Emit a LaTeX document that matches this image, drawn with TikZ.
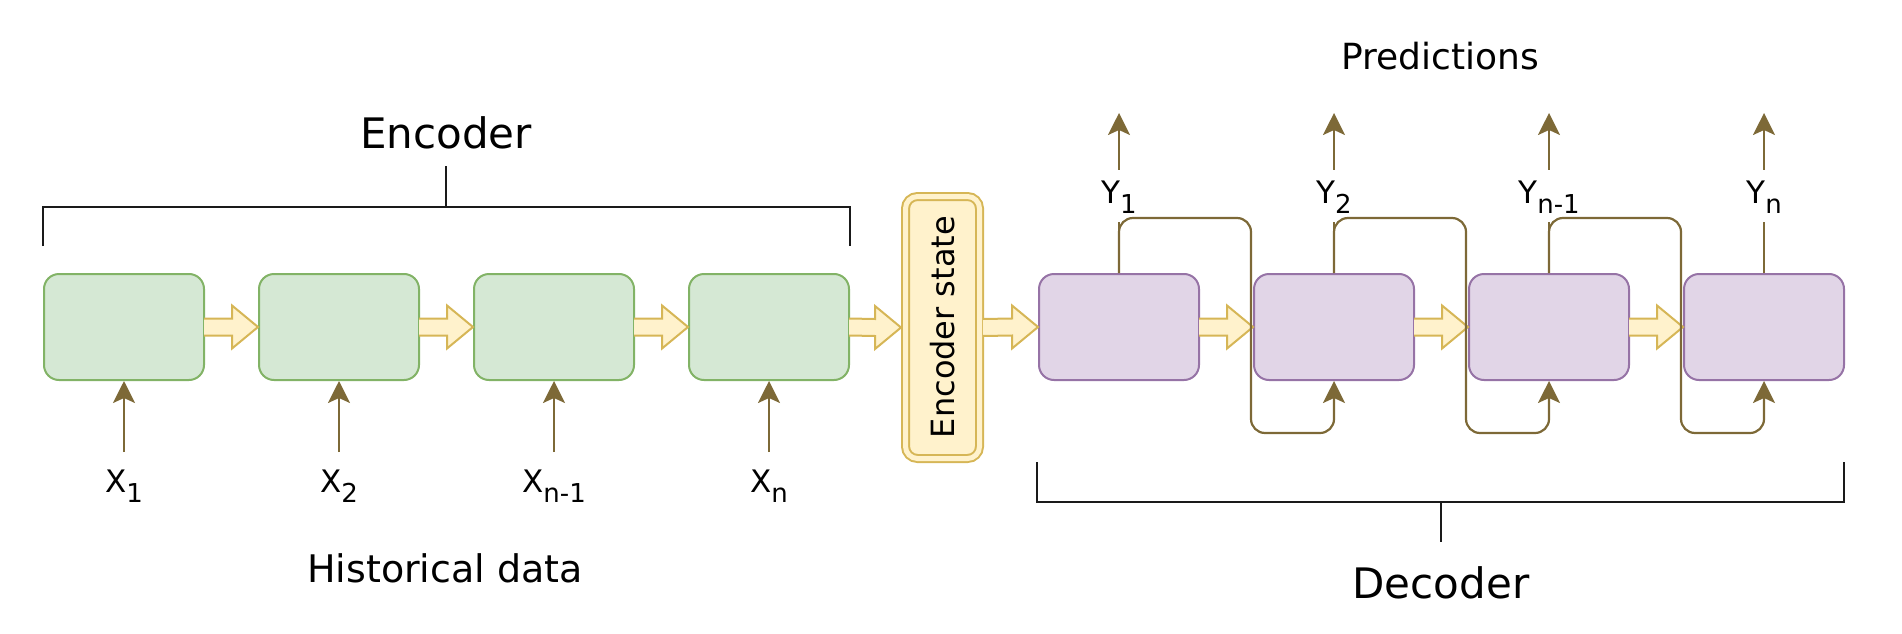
\documentclass[tikz,border=0pt]{standalone}
\usepackage{fontspec}
\setmainfont{DejaVu Sans}
\usetikzlibrary{calc,arrows.meta}
\definecolor{gfill}{HTML}{D5E8D4}
\definecolor{gline}{HTML}{82B366}
\definecolor{pfill}{HTML}{E1D5E7}
\definecolor{pline}{HTML}{9673A6}
\definecolor{yfill}{HTML}{FFF2CC}
\definecolor{yline}{HTML}{D6B656}
\definecolor{olivec}{HTML}{7D6937}
\definecolor{brkc}{HTML}{1A1A1A}
\newcommand\lsub[1]{\raisebox{-10pt}{\fontsize{26}{26}\selectfont #1}}
\newcommand\blockarr[2]{%
  \fill[yfill] ($(#1.east)+(-1,-8.5)$) -- ($(#2.west)+(-26,-8.5)$) -- ($(#2.west)+(-26,-21.5)$) -- (#2.west) -- ($(#2.west)+(-26,21.5)$) -- ($(#2.west)+(-26,8.5)$) -- ($(#1.east)+(-1,8.5)$) -- cycle;
  \draw[blk] ($(#1.east)+(-1,-8.5)$) -- ($(#2.west)+(-26,-8.5)$) -- ($(#2.west)+(-26,-21.5)$) -- (#2.west) -- ($(#2.west)+(-26,21.5)$) -- ($(#2.west)+(-26,8.5)$) -- ($(#1.east)+(-1,8.5)$);}
\begin{document}
\begin{tikzpicture}[x=1pt,y=-1pt,
  gbox/.style={draw=gline,fill=gfill,line width=2pt,rounded corners=15pt,minimum width=160pt,minimum height=106pt,inner sep=0pt},
  pbox/.style={draw=pline,fill=pfill,line width=2pt,rounded corners=15pt,minimum width=160pt,minimum height=106pt,inner sep=0pt},
  esbox/.style={draw=yline,double=yfill,double distance=5pt,line width=2pt,fill=yfill,rounded corners=12pt,minimum width=74pt,minimum height=262pt,inner sep=0pt,outer sep=4.5pt},
  olv/.style={draw=olivec,line width=2.2pt},
  arr/.style={-{Stealth[length=22pt,width=22pt,inset=5pt]}},
  blk/.style={draw=yline,line width=2pt,line join=miter},
  brk/.style={draw=brkc,line width=2.5pt,line join=miter},
  lab/.style={font=\fontsize{31}{31}\selectfont,inner sep=0pt},
  ylab/.style={lab,minimum height=52pt,text height=24pt,text depth=10pt},
  big/.style={font=\fontsize{42}{42}\selectfont,inner sep=0pt,anchor=base},
  mid/.style={inner sep=0pt,anchor=base}
]
\useasboundingbox (0,0) rectangle (1902,634);

% encoder cells
\node[gbox] (g1) at (124,327) {};
\node[gbox] (g2) at (339,327) {};
\node[gbox] (g3) at (554,327) {};
\node[gbox] (g4) at (769,327) {};
% encoder state
\node[esbox] (es) at (942.5,327.5) {};
\node[rotate=90,inner sep=0pt,font=\fontsize{32}{32}\selectfont] (est) at (943,327) {Encoder state};
% decoder cells
\node[pbox] (p1) at (1119,327) {};
\node[pbox] (p2) at (1334,327) {};
\node[pbox] (p3) at (1549,327) {};
\node[pbox] (p4) at (1764,327) {};

% block arrows
\blockarr{g1}{g2}
\blockarr{g2}{g3}
\blockarr{g3}{g4}
\blockarr{g4}{es}
\blockarr{es}{p1}
\blockarr{p1}{p2}
\blockarr{p2}{p3}
\blockarr{p3}{p4}

% inputs
\node[lab,anchor=base] (x1) at (124,492) {X\lsub{1}};
\node[lab,anchor=base] (x2) at (339,492) {X\lsub{2}};
\node[lab,anchor=base] (x3) at (554,492) {X\lsub{n-1}};
\node[lab,anchor=base] (x4) at (769,492) {X\lsub{n}};
\coordinate (xs1) at (124,452);
\coordinate (xs2) at (339,452);
\coordinate (xs3) at (554,452);
\coordinate (xs4) at (769,452);
\draw[olv,arr] (xs1) -- (g1.south);
\draw[olv,arr] (xs2) -- (g2.south);
\draw[olv,arr] (xs3) -- (g3.south);
\draw[olv,arr] (xs4) -- (g4.south);

% outputs
\node[ylab] (y1) at (1119,196) {Y\lsub{1}};
\node[ylab] (y2) at (1334,196) {Y\lsub{2}};
\node[ylab] (y3) at (1549,196) {Y\lsub{n-1}};
\node[ylab] (y4) at (1764,196) {Y\lsub{n}};
\coordinate (t1) at (1119,113);
\coordinate (t2) at (1334,113);
\coordinate (t3) at (1549,113);
\coordinate (t4) at (1764,113);
\foreach \i in {1,2,3,4}{
  \draw[olv] (p\i.north) -- (y\i.south);
  \draw[olv,arr] (y\i.north) -- (t\i);
}

% feedback loops
\draw[olv,arr,rounded corners=14pt] (p1.north) -- ++(0,-55) -- ($(p2.north west)+(-2,-55)$) -- ($(p2.south west)+(-2,52)$) -- ($(p2.south)+(0,52)$) -- (p2.south);
\draw[olv,arr,rounded corners=14pt] (p2.north) -- ++(0,-55) -- ($(p3.north west)+(-2,-55)$) -- ($(p3.south west)+(-2,52)$) -- ($(p3.south)+(0,52)$) -- (p3.south);
\draw[olv,arr,rounded corners=14pt] (p3.north) -- ++(0,-55) -- ($(p4.north west)+(-2,-55)$) -- ($(p4.south west)+(-2,52)$) -- ($(p4.south)+(0,52)$) -- (p4.south);

% brackets
\draw[brk] (43,246) -- (43,207) -- (850,207) -- (850,246);
\draw[brk] (446,207) -- (446,166);
\draw[brk] (1037,462) -- (1037,502) -- (1844,502) -- (1844,462);
\draw[brk] (1441,502) -- (1441,542);

% titles
\node[big] (enc) at (446,148) {Encoder};
\node[big] (dec) at (1441,598) {Decoder};
\node[mid,font=\fontsize{36}{36}\selectfont] (pred) at (1440,70) {Predictions};
\node[mid,font=\fontsize{38}{38}\selectfont] (hist) at (445,582) {Historical data};
\end{tikzpicture}
\end{document}
